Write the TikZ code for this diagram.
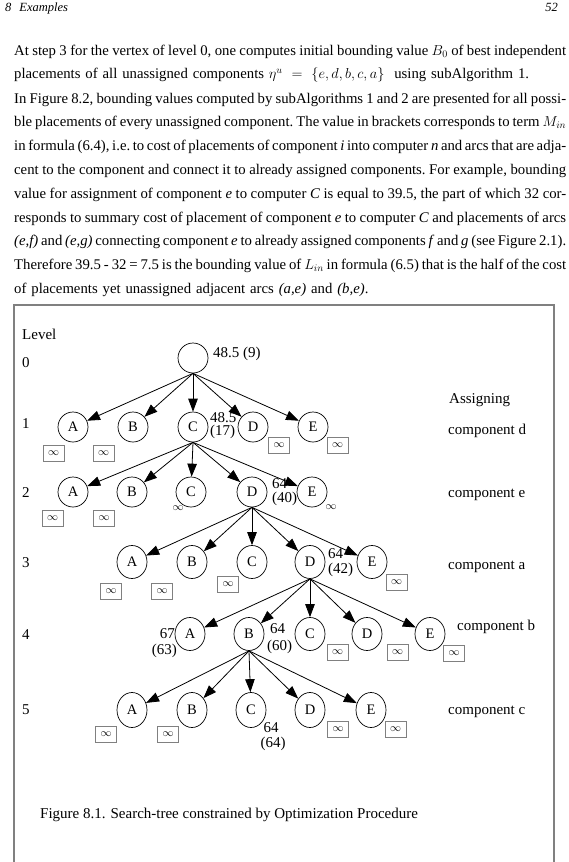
\documentclass[tikz,border=0pt]{standalone}
\usepackage{fontspec}
\setmainfont{Liberation Serif}
\usetikzlibrary{shapes.geometric, arrows.meta}
\tikzstyle{arrow} = [line width=0.8pt, -{Triangle[length=13pt, width=9.5pt]}]
\newcommand{\jline}[1]{\hbox to 552pt{\spaceskip=0.25em plus 0.3em minus 0.14em\relax #1}\par}

\begin{document}
\begin{tikzpicture}[x=1pt, y=-1pt,
    vertex/.style={ellipse, draw, line width=0.7pt, minimum width=30pt, minimum height=30pt, inner sep=0pt, font=\fontsize{14.5}{14.5}\selectfont},
    tall/.style={minimum height=33pt},
    taller/.style={minimum height=35pt},
    infbox/.style={rectangle, draw=black!50, line width=1pt, minimum width=21pt, minimum height=16pt, inner sep=0pt, font=\fontsize{10.5}{10.5}\selectfont},
    num/.style={inner sep=0pt, font=\fontsize{15}{15}\selectfont},
    side/.style={anchor=base west, inner sep=0pt, font=\fontsize{15}{15}\selectfont},
    body/.style={anchor=base west, inner sep=0pt, text width=552pt, font=\fontsize{14.75}{23.8}\selectfont\frenchspacing},
]
\useasboundingbox (0,0) rectangle (568,862);

% Running head
\node[anchor=base west, inner sep=0pt, font=\fontsize{12.5}{12.5}\selectfont\itshape] (chap) at (5,12) {8\hspace{8pt}Examples};
\node[anchor=base east, inner sep=0pt, font=\fontsize{12.5}{12.5}\selectfont\itshape] (page) at (558,12) {52};

% Text above the figure
\node[body] (par1) at (14,55) {\jline{At step 3 for the vertex of level 0, one computes initial bounding value $B_0$ of best independent}
placements of all unassigned components $\eta^u\ =\ \{e, d, b, c, a\}$\ \ using subAlgorithm 1.};
\node[body] (par2) at (14,103) {\jline{In Figure 8.2, bounding values computed by subAlgorithms 1 and 2 are presented for all possi-}
\jline{ble placements of every unassigned component. The value in brackets corresponds to term $M_{in}$}
\jline{in formula (6.4), i.e. to cost of placements of component \textit{i} into computer \textit{n} and arcs that are adja-}
\jline{cent to the component and connect it to already assigned components. For example, bounding}
\jline{value for assignment of component \textit{e} to computer \textit{C} is equal to 39.5, the part of which 32 cor-}
\jline{responds to summary cost of placement of component \textit{e} to computer \textit{C} and placements of arcs}
\jline{\textit{(e,f)} and \textit{(e,g)} connecting component \textit{e} to already assigned components \textit{f} and \textit{g} (see Figure 2.1).}
\jline{Therefore 39.5 - 32 = 7.5 is the bounding value of $L_{in}$\ in formula (6.5) that is the half of the cost}
of placements yet unassigned adjacent arcs \textit{(a,e)} and \textit{(b,e)}.};

% Frame of the figure
\draw[black!50, line width=1.5pt] (14,862) -- (14,305) -- (554,305) -- (554,862);

% Level numbers
\node[side] (lvl) at (22,339) {Level};
\node[side] (lvl0) at (22,367) {0};
\node[side] (lvl1) at (22,428) {1};
\node[side] (lvl2) at (22,497) {2};
\node[side] (lvl3) at (22,567) {3};
\node[side] (lvl4) at (22,639) {4};
\node[side] (lvl5) at (22,714) {5};

% Assigned components
\node[side] (asg) at (449,403) {Assigning};
\node[side] (asgd) at (448,434) {component d};
\node[side] (asge) at (448,497) {component e};
\node[side] (asga) at (448,569) {component a};
\node[side] (asgb) at (457,630) {component b};
\node[side] (asgc) at (448,714) {component c};

% Level 0
\node[vertex] (root) at (193,358) {};
\node[num, anchor=base west] (rootb) at (213,357) {48.5 (9)};

% Level 1
\node[vertex] (a1) at (73,427) {A};
\node[vertex] (b1) at (133,427) {B};
\node[vertex] (c1) at (193,427) {C};
\node[vertex] (d1) at (253,427) {D};
\node[vertex] (e1) at (313,427) {E};
\node[num, anchor=base west] (c1b) at (210,422) {48.5};
\node[num, anchor=base west] (c1m) at (210,435) {(17)};
\node[infbox] (ia1) at (53.5,453) {$\infty$};
\node[infbox] (ib1) at (103.5,453) {$\infty$};
\node[infbox] (id1) at (279,445) {$\infty$};
\node[infbox] (ie1) at (337.5,445) {$\infty$};

% Level 2
\node[vertex] (a2) at (73,492) {A};
\node[vertex] (b2) at (132,492) {B};
\node[vertex] (c2) at (191,492) {C};
\node[vertex] (d2) at (252,492) {D};
\node[vertex] (e2) at (312,492) {E};
\node[num, anchor=base west] (d2b) at (272,488) {64};
\node[num, anchor=base west] (d2m) at (272,502) {(40)};
\node[infbox] (ia2) at (52.5,518) {$\infty$};
\node[infbox] (ib2) at (104,518) {$\infty$};
\node[num, font=\fontsize{10.5}{10.5}\selectfont] (ic2) at (178,508) {$\infty$};
\node[num, font=\fontsize{10.5}{10.5}\selectfont] (ie2) at (331,507) {$\infty$};

% Level 3
\node[vertex, tall] (a3) at (132,562) {A};
\node[vertex, tall] (b3) at (192,562) {B};
\node[vertex, tall] (c3) at (252,562) {C};
\node[vertex, tall] (d3) at (310,562) {D};
\node[vertex, tall] (e3) at (372,562) {E};
\node[num, anchor=base west] (d3b) at (328,558) {64};
\node[num, anchor=base west] (d3m) at (328,573) {(42)};
\node[infbox] (ia3) at (111,591) {$\infty$};
\node[infbox] (ib3) at (162,591) {$\infty$};
\node[infbox] (ic3) at (228,584) {$\infty$};
\node[infbox] (ie3) at (396.5,582.5) {$\infty$};

% Level 4
\node[vertex, tall] (a4) at (190,634) {A};
\node[vertex, tall] (b4) at (249,634) {B};
\node[vertex, tall] (c4) at (310,634) {C};
\node[vertex, tall] (d4) at (367,634) {D};
\node[vertex, tall] (e4) at (430,634) {E};
\node[num, anchor=base east] (a4b) at (175,638) {67};
\node[num, anchor=base east] (a4m) at (177,654) {(63)};
\node[num, anchor=base west] (b4b) at (270,633) {64};
\node[num, anchor=base west] (b4m) at (267,650) {(60)};
\node[infbox] (ic4) at (337.5,652.5) {$\infty$};
\node[infbox] (id4) at (397.5,652) {$\infty$};
\node[infbox] (ie4) at (454,653) {$\infty$};

% Level 5
\node[vertex, taller] (a5) at (132,710) {A};
\node[vertex, taller] (b5) at (192,710) {B};
\node[vertex, taller] (c5) at (251,710) {C};
\node[vertex, taller] (d5) at (310,710) {D};
\node[vertex, taller] (e5) at (371,710) {E};
\node[num, anchor=base] (c5b) at (271,732) {64};
\node[num, anchor=base] (c5m) at (273,747) {(64)};
\node[infbox] (ia5) at (106,734) {$\infty$};
\node[infbox] (ib5) at (168,734) {$\infty$};
\node[infbox] (id5) at (338,729) {$\infty$};
\node[infbox] (ie5) at (395.5,729) {$\infty$};

% Arrows
\draw[arrow] (root.south) -- (a1);
\draw[arrow] (root.south) -- (b1);
\draw[arrow] (root.south) -- (c1);
\draw[arrow] (root.south) -- (d1);
\draw[arrow] (root.south) -- (e1);
\draw[arrow] (c1.south) -- (a2);
\draw[arrow] (c1.south) -- (b2);
\draw[arrow] (c1.south) -- (c2);
\draw[arrow] (c1.south) -- (d2);
\draw[arrow] (c1.south) -- (e2);
\draw[arrow] (d2.south) -- (a3);
\draw[arrow] (d2.south) -- (b3);
\draw[arrow] (d2.south) -- (c3);
\draw[arrow] (d2.south) -- (d3);
\draw[arrow] (d2.south) -- (e3);
\draw[arrow] (d3.south) -- (a4);
\draw[arrow] (d3.south) -- (b4);
\draw[arrow] (d3.south) -- (c4);
\draw[arrow] (d3.south) -- (d4);
\draw[arrow] (d3.south) -- (e4);
\draw[arrow] (b4.south) -- (a5);
\draw[arrow] (b4.south) -- (b5);
\draw[arrow] (b4.south) -- (c5);
\draw[arrow] (b4.south) -- (d5);
\draw[arrow] (b4.south) -- (e5);

% Caption
\node[side] (caption) at (40,818) {Figure 8.1. Search-tree constrained by Optimization Procedure};

\end{tikzpicture}
\end{document}
